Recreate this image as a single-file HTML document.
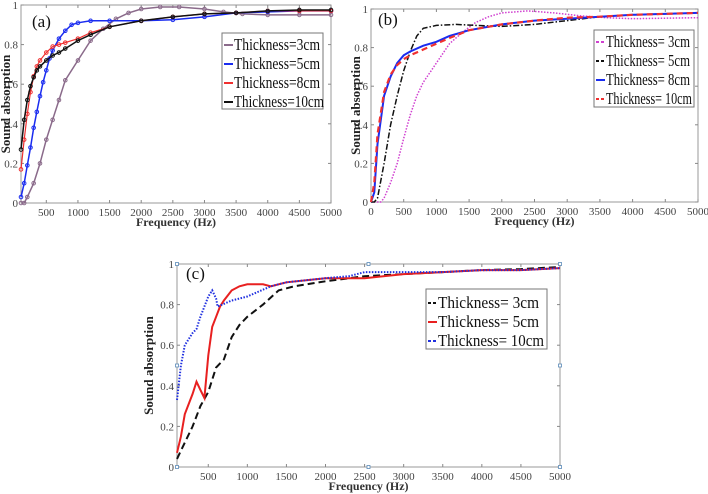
<!DOCTYPE html>
<html><head><meta charset="utf-8"><style>
html,body{margin:0;padding:0;background:#fff;}
svg{display:block;font-family:"Liberation Serif",serif;}
svg text{font-family:"Liberation Serif",serif;}
</style></head><body>
<svg id="c" width="708" height="494" viewBox="0 0 708 494" xmlns="http://www.w3.org/2000/svg" font-family="Liberation Serif, serif"></svg>
<script>
// ---- Panel (a) data ----
const aF3=[100,150,200,300,400,500,600,700,800,1000,1200,1400,1600,1800,2000,2300,2600,3000,3300,3600,4000,4500,5000];
const aV3=[0,0,.03,.1,.2,.32,.42,.52,.62,.72,.82,.88,.93,.96,.98,.99,.99,.98,.965,.955,.95,.95,.95];
const aF5=[100,150,200,250,300,350,400,450,500,550,600,700,800,900,1000,1200,1500,2000,2500,3000,3500,4000,4500,5000];
const aV5=[.03,.1,.19,.28,.38,.46,.54,.61,.67,.73,.77,.83,.87,.9,.91,.92,.92,.92,.925,.94,.96,.965,.97,.97];
const aF8=[100,150,200,250,300,350,400,500,600,700,800,1000,1200,1500,2000,2500,3000,3500,4000,4500,5000];
const aV8=[.17,.32,.45,.56,.64,.69,.72,.76,.79,.8,.81,.83,.86,.89,.92,.94,.955,.96,.97,.97,.97];
const aF10=[100,150,200,250,300,350,400,500,600,700,800,1000,1200,1500,2000,2500,3000,3500,4000,4500,5000];
const aV10=[.27,.42,.52,.59,.635,.67,.69,.72,.745,.76,.78,.82,.85,.89,.92,.94,.955,.96,.97,.975,.975];
// ---- Panel (b) data ----
const bF3=[0,100,150,200,300,400,500,600,700,800,1000,1200,1400,1600,1800,2000,2400,2800,3200,3600,4000,5000];
const bV3=[0,0,0,.02,.1,.2,.33,.45,.55,.62,.72,.82,.88,.93,.96,.98,.99,.98,.965,.955,.95,.955];
const bF5=[0,50,100,200,300,400,500,600,700,800,1000,1300,1600,2000,2500,3000,3500,4000,5000];
const bV5=[0,0,.02,.2,.4,.55,.68,.78,.86,.9,.915,.92,.915,.91,.92,.94,.96,.97,.98];
const bF8=[0,50,100,200,300,400,500,600,800,1000,1200,1500,2000,2500,3000,3500,4000,5000];
const bV8=[0,.05,.3,.55,.65,.72,.76,.78,.81,.83,.86,.89,.92,.94,.95,.96,.97,.98];
const bF10=[0,50,100,200,300,400,500,600,800,1000,1200,1500,2000,2500,3000,3500,4000,5000];
const bV10=[0,.1,.35,.57,.66,.71,.74,.76,.79,.82,.85,.89,.92,.94,.955,.96,.97,.98];
// ---- Panel (c) data ----
const cF3=[100,200,300,400,500,600,700,800,900,1000,1200,1400,1600,2000,2500,3000,3500,4000,4500,5000];
const cV3=[.04,.12,.2,.3,.37,.49,.53,.64,.7,.74,.8,.87,.89,.915,.94,.95,.96,.97,.975,.985];
const cF5=[100,150,200,300,350,400,450,500,550,600,650,700,800,900,1000,1200,1300,1500,2000,2500,3000,3500,4000,4500,5000];
const cV5=[.07,.15,.26,.36,.42,.38,.34,.55,.69,.74,.79,.82,.87,.89,.9,.9,.89,.91,.93,.93,.95,.96,.97,.97,.98];
const cF10=[100,150,200,300,350,400,500,550,600,620,800,1000,1300,1500,2000,2300,2500,3000,3500,4000,4500,5000];
const cV10=[.33,.5,.6,.66,.68,.74,.84,.87,.83,.79,.82,.84,.89,.91,.93,.94,.96,.96,.96,.97,.97,.98];
const xTicks=[500,1000,1500,2000,2500,3000,3500,4000,4500,5000];
const xTicksB=[0,500,1000,1500,2000,2500,3000,3500,4000,4500,5000];
const yTicks=[0,0.2,0.4,0.6,0.8,1];
const yTickLabels=["0","0.2","0.4","0.6","0.8","1"];

const svg=document.getElementById('c');
const NS='http://www.w3.org/2000/svg';
const FF='Liberation Serif, serif';
function mk(tag,attrs,parent){const e=document.createElementNS(NS,tag);for(const k in attrs)e.setAttribute(k,attrs[k]);if(tag==='text')e.setAttribute('font-family',FF);(parent||svg).appendChild(e);return e;}

function panel(o){
  const g=mk('g',{});
  
  
  const X=f=>o.x0+(f-o.fmin)/(o.fmax-o.fmin)*(o.x1-o.x0);
  const Y=v=>o.y1-v*(o.y1-o.y0);
  const box=mk('rect',{x:o.x0,y:o.y0,width:o.x1-o.x0,height:o.y1-o.y0,fill:'none',stroke:'#9a9a9a','stroke-width':1},g);
  
  
  o.xt.forEach(t=>{
    const x=X(t);
    mk('line',{x1:x,x2:x,y1:o.y1,y2:o.y1-3,stroke:'#888'},g);
    mk('line',{x1:x,x2:x,y1:o.y0,y2:o.y0+3,stroke:'#888'},g);
    const tx=mk('text',{x:x,y:o.y1+13,'text-anchor':'middle','font-size':11,fill:'#444'},g);
    tx.textContent=t;
    
    
  });
  yTicks.forEach((t,i)=>{
    const y=Y(t);
    mk('line',{x1:o.x0,x2:o.x0+3,y1:y,y2:y,stroke:'#888'},g);
    mk('line',{x1:o.x1,x2:o.x1-3,y1:y,y2:y,stroke:'#888'},g);
    const tx=mk('text',{x:o.x0-3,y:y+4,'text-anchor':'end','font-size':11,fill:'#444'},g);
    tx.textContent=yTickLabels[i];
    
    
  });
  const xt=mk('text',{x:(o.x0+o.x1)/2,y:o.y1+23,'text-anchor':'middle','font-size':12,'font-weight':'bold',fill:'#333'},g);
  xt.textContent='Frequency (Hz)';
  
  
  const yt=mk('text',{x:0,y:0,'text-anchor':'middle','font-size':13,'font-weight':'bold',fill:'#222',transform:`translate(${o.ytx},${(o.y0+o.y1)/2}) rotate(-90)`},g);
  yt.textContent='Sound absorption';
  
  
  const pl=mk('text',{x:o.lx,y:o.ly,'font-size':17,fill:'#111'},g);
  pl.textContent='('+o.id+')';
  
  
  o.series.forEach(s=>{
    const d=s.f.map((f,i)=>(i?'L':'M')+X(f).toFixed(1)+','+Y(s.v[i]).toFixed(1)).join('');
    const p=mk('path',{d:d,fill:'none',stroke:s.c,'stroke-width':s.w||1.5,'stroke-dasharray':s.dash||'none'},g);
    
    
    if(s.mark){s.f.forEach((f,i)=>{
      const m=mk('circle',{cx:X(f),cy:Y(s.v[i]),r:1.8,fill:'none',stroke:s.c,'stroke-width':1},g);
      
      
    });}
  });
  const L=o.leg;
  const lg=mk('g',{},g);
  
  
  mk('rect',{x:L.x,y:L.y,width:L.w,height:L.h,fill:'#fff',stroke:'#777'},lg);
  o.series.forEach((s,i)=>{
    const yy=L.y+L.fy+i*L.dy;
    mk('line',{x1:L.x+2,x2:L.x+11,y1:yy-5,y2:yy-5,stroke:s.c,'stroke-width':2,'stroke-dasharray':s.dash?'3,2':'none'},lg);
    const t=mk('text',{x:L.x+12,y:yy,'font-size':L.fs,fill:'#111',textLength:L.tl[i],lengthAdjust:'spacingAndGlyphs'},lg);
    t.textContent=s.label;
    
    
  });
  if(o.handles){
    [[o.x0,o.y0],[(o.x0+o.x1)/2,o.y0],[o.x1,o.y0],[o.x0,(o.y0+o.y1)/2],[o.x1,(o.y0+o.y1)/2],[o.x0,o.y1],[(o.x0+o.x1)/2,o.y1],[o.x1,o.y1]].forEach(p=>{
      const h=mk('rect',{x:p[0]-1.5,y:p[1]-1.5,width:3,height:3,fill:'#fff',stroke:'#5a8ab8','stroke-width':0.8},g);
      
      
    });
  }
}

panel({id:'a',x0:21,x1:331,y0:5,y1:203,fmin:100,fmax:5000,xt:xTicks,ytx:10,lx:32,ly:27,
  leg:{x:222,y:33,w:101,h:76,fy:17,dy:19,fs:17,tl:[86,86,86,90]},
  series:[
    {name:'3cm',f:aF3,v:aV3,c:'#8a6a8a',mark:1,label:'Thickness=3cm'},
    {name:'5cm',f:aF5,v:aV5,c:'#1a2cf0',mark:1,label:'Thickness=5cm'},
    {name:'8cm',f:aF8,v:aV8,c:'#f03030',mark:1,w:1.2,label:'Thickness=8cm'},
    {name:'10cm',f:aF10,v:aV10,c:'#111',mark:1,label:'Thickness=10cm'}]});
panel({id:'b',x0:371,x1:698,y0:9,y1:202,fmin:0,fmax:5000,xt:xTicksB,ytx:360,lx:378,ly:25,
  leg:{x:594,y:30,w:100,h:77,fy:17,dy:19,fs:17,tl:[84,84,84,86]},
  series:[
    {name:'3cm',f:bF3,v:bV3,c:'#d040d0',dash:'1.5,1.5',label:'Thickness= 3cm'},
    {name:'5cm',f:bF5,v:bV5,c:'#111',dash:'6,2,1.5,2',label:'Thickness= 5cm'},
    {name:'8cm',f:bF8,v:bV8,c:'#1a2cf0',w:2,label:'Thickness= 8cm'},
    {name:'10cm',f:bF10,v:bV10,c:'#f03030',dash:'6,4',w:2.2,label:'Thickness= 10cm'}]});
panel({id:'c',x0:177,x1:560,y0:264,y1:467,fmin:100,fmax:5000,xt:xTicks,ytx:153,lx:186,ly:279,handles:1,
  leg:{x:426,y:289,w:121,h:60,fy:19,dy:19,fs:17,tl:[101,101,106]},
  series:[
    {name:'3cm',f:cF3,v:cV3,c:'#111',dash:'7,4',w:2,label:'Thickness= 3cm'},
    {name:'5cm',f:cF5,v:cV5,c:'#e82020',w:2,label:'Thickness= 5cm'},
    {name:'10cm',f:cF10,v:cV10,c:'#2030e0',dash:'1.5,1.5',w:2,label:'Thickness= 10cm'}]});
</script>
</body></html>
